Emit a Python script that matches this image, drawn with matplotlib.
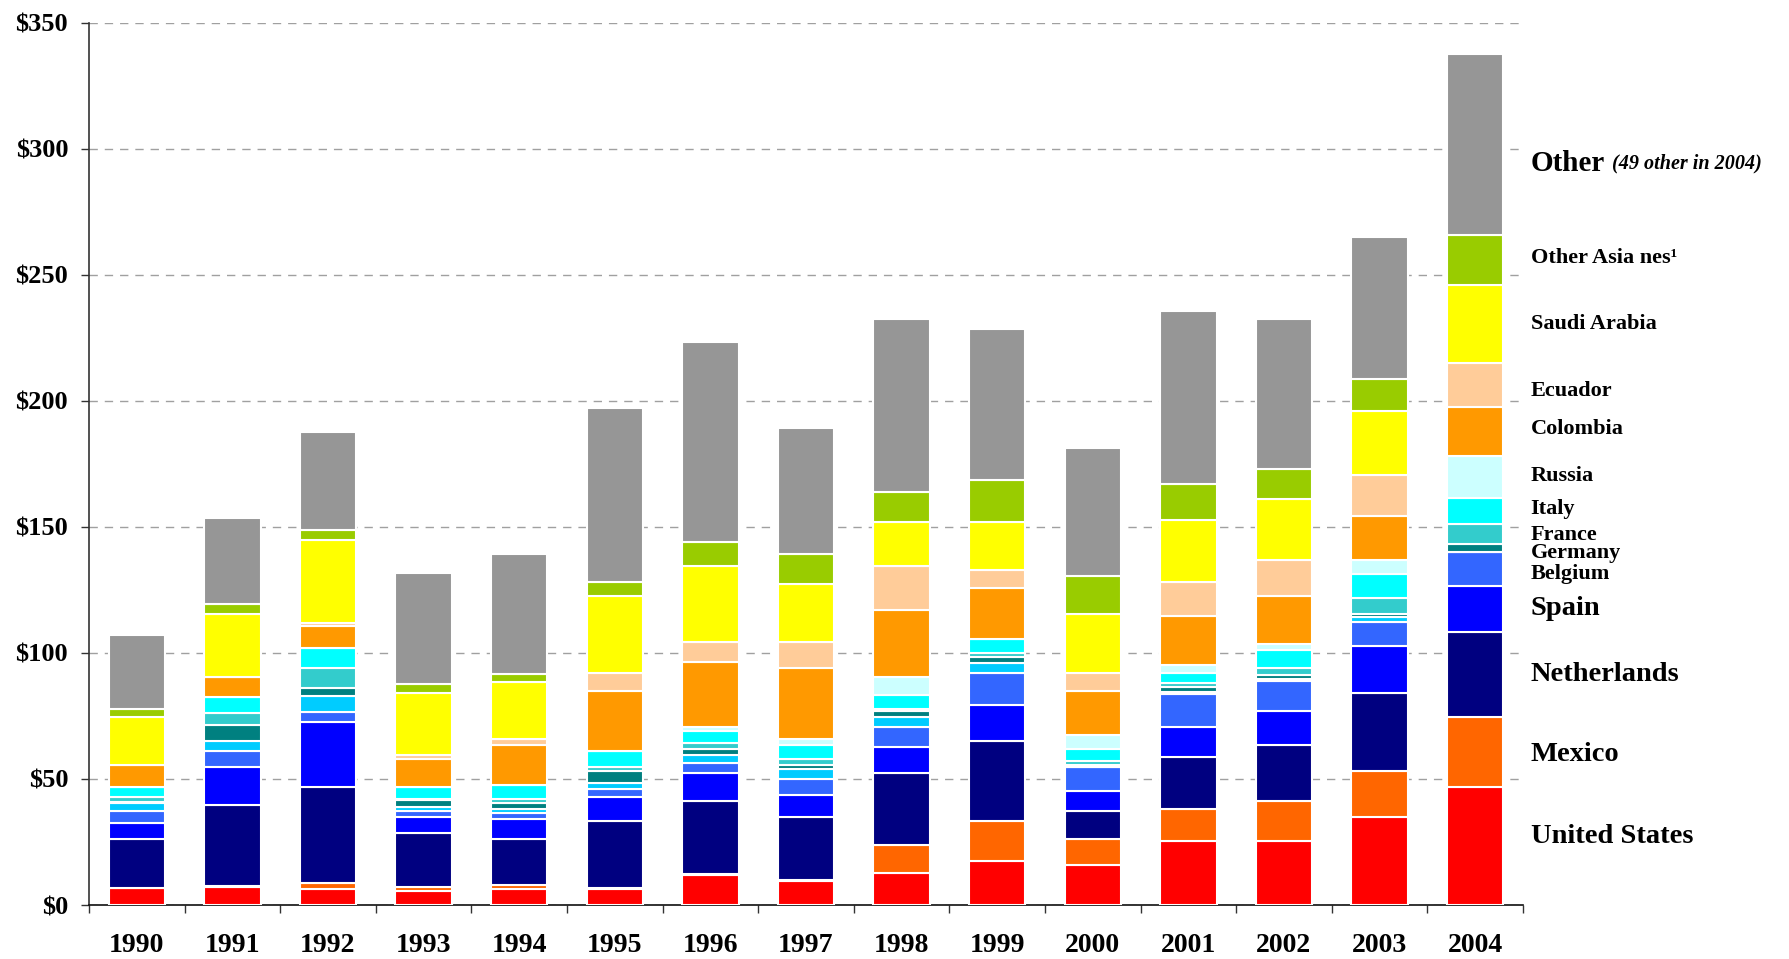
import numpy as np
import matplotlib
matplotlib.use("Agg")
import matplotlib.pyplot as plt
from matplotlib.ticker import FixedLocator, FuncFormatter

# ---- data (US$ millions) ----
years = [1990, 1991, 1992, 1993, 1994, 1995, 1996, 1997, 1998, 1999,
         2000, 2001, 2002, 2003, 2004]

united_states = [6.6, 7.3, 6.5, 5.7, 6.5, 6.5, 11.9, 9.5, 12.8, 17.6, 16.0, 25.5, 25.5, 35.0, 46.9]
mexico = [0.3, 0.2, 2.3, 1.6, 1.4, 0.4, 0.4, 0.4, 11.0, 15.8, 10.2, 12.6, 15.8, 18.3, 27.5]
netherlands = [19.3, 32.2, 38.0, 21.4, 18.3, 26.5, 29.0, 25.1, 28.7, 31.7, 11.1, 20.7, 22.2, 30.7, 33.9]
spain = [6.5, 15.2, 25.9, 6.3, 7.9, 9.6, 11.1, 8.6, 10.2, 14.1, 7.9, 11.8, 13.3, 18.9, 18.2]
belgium = [4.7, 6.2, 4.0, 2.3, 2.5, 3.0, 3.9, 6.4, 7.9, 12.7, 9.5, 13.2, 11.9, 9.4, 13.5]
unnamed = [3.2, 4.0, 6.3, 1.6, 1.5, 2.5, 3.2, 4.0, 4.0, 4.0, 0.0, 0.8, 0.8, 1.8, 0.0]
germany = [0.4, 6.2, 3.2, 2.8, 2.4, 4.7, 2.4, 1.5, 2.4, 2.4, 0.8, 1.8, 1.6, 1.5, 3.2]
france = [1.8, 4.7, 7.9, 0.3, 1.5, 1.7, 2.2, 2.4, 0.9, 1.5, 1.6, 1.5, 3.0, 6.3, 7.9]
italy = [4.1, 6.6, 8.0, 4.8, 5.6, 6.2, 4.9, 5.6, 5.3, 5.6, 4.8, 4.0, 7.2, 9.5, 10.3]
russia = [0, 0, 0, 0, 0, 0, 1.6, 2.3, 7.2, 0, 5.7, 3.2, 2.4, 5.5, 16.6]
colombia = [8.6, 7.7, 8.7, 11.1, 15.9, 23.7, 25.9, 28.3, 26.6, 20.5, 17.2, 19.7, 19.0, 17.5, 19.7]
ecuador = [0, 0, 1.2, 1.7, 2.3, 7.1, 8.0, 10.4, 17.6, 7.1, 7.1, 13.5, 14.3, 16.1, 17.4]
saudi_arabia = [18.9, 25.1, 32.8, 24.4, 22.8, 30.8, 30.1, 23.0, 17.3, 19.0, 23.5, 24.5, 24.1, 25.6, 30.9]
other_asia = [3.2, 4.1, 3.9, 3.8, 3.1, 5.6, 9.5, 11.7, 11.9, 16.6, 15.1, 14.3, 11.8, 12.7, 19.7]
other = [29.4, 34.0, 38.8, 43.8, 47.7, 68.7, 79.1, 49.9, 68.7, 60.0, 50.8, 68.6, 59.7, 56.2, 72.0]

series = [
    (united_states, "#FF0000"),
    (mexico, "#FF6600"),
    (netherlands, "#000080"),
    (spain, "#0000FF"),
    (belgium, "#3366FF"),
    (unnamed, "#00CCFF"),
    (germany, "#008080"),
    (france, "#33CCCC"),
    (italy, "#00FFFF"),
    (russia, "#CCFFFF"),
    (colombia, "#FF9900"),
    (ecuador, "#FFCC99"),
    (saudi_arabia, "#FFFF00"),
    (other_asia, "#99CC00"),
    (other, "#969696"),
]

# right-hand labels: (text, y in $, size)
labels = [
    ("United States", 27.1, 20.5),
    ("Mexico", 59.8, 20.5),
    ("Netherlands", 91.6, 20.5),
    ("Spain", 117.7, 20.5),
    ("Belgium", 131.5, 16),
    ("Germany", 139.8, 16),
    ("France", 146.8, 16),
    ("Italy", 157.0, 16),
    ("Russia", 170.2, 16),
    ("Colombia", 188.8, 16),
    ("Ecuador", 203.9, 16),
    ("Saudi Arabia", 230.5, 16),
    ("Other Asia nes\u00b9", 256.5, 16),
]

plt.rcParams["font.family"] = ["Liberation Serif", "DejaVu Serif"]
plt.rcParams["font.weight"] = "bold"

fig = plt.figure(figsize=(17.89, 9.59), dpi=100)
ax = fig.add_axes([0.0497, 0.0563, 0.8016, 0.92])

x = np.arange(len(years))
bottom = np.zeros(len(years))
for vals, col in series:
    v = np.array(vals, dtype=float)
    ax.bar(x, v, bottom=bottom, width=0.59, color=col,
           edgecolor="white", linewidth=1.5, zorder=3)
    bottom += v

ax.set_xlim(-0.5, len(years) - 0.5)
ax.set_ylim(0, 350)

# grid
ax.yaxis.set_major_locator(FixedLocator(np.arange(0, 351, 50)))
ax.yaxis.set_major_formatter(FuncFormatter(lambda v, p: f"${int(v)}"))
ax.grid(axis="y", color="#A0A0A0", linestyle=(0, (6, 5)), linewidth=1.0, zorder=0)
ax.set_axisbelow(True)

# x ticks: labels at centres, tick marks at boundaries
ax.set_xticks(x)
ax.set_xticklabels([str(y) for y in years])
ax.set_xticks(np.arange(-0.5, len(years), 1.0), minor=True)
ax.tick_params(axis="x", which="major", length=0, pad=20, labelsize=20)
ax.tick_params(axis="x", which="minor", length=6, width=1, color="#333333", direction="out")
ax.tick_params(axis="y", which="major", length=6, width=1, color="#333333",
               direction="out", pad=9, labelsize=19)

for s in ["top", "right"]:
    ax.spines[s].set_visible(False)
ax.spines["left"].set_color("#333333")
ax.spines["bottom"].set_color("#111111")
ax.spines["left"].set_linewidth(1.2)
ax.spines["bottom"].set_linewidth(1.2)

lx = len(years) - 0.5 + 0.08
for txt, yv, sz in labels:
    ax.text(lx, yv, txt, fontsize=sz, fontweight="bold", va="center",
            ha="left", clip_on=False)

# "Other" with italic note
t_other = ax.text(lx, 294.2, "Other", fontsize=21, fontweight="bold",
                  va="center", ha="left", clip_on=False)
fig.canvas.draw()
r = fig.canvas.get_renderer()
bb = t_other.get_window_extent(renderer=r)
x_px = bb.x1 + 7
x_data = ax.transData.inverted().transform((x_px, 0))[0]
ax.text(x_data, 294.2, "(49 other in 2004)", fontsize=14.5, fontweight="bold",
        fontstyle="italic", va="center", ha="left", clip_on=False)

fig.savefig("out.png", dpi=100)
